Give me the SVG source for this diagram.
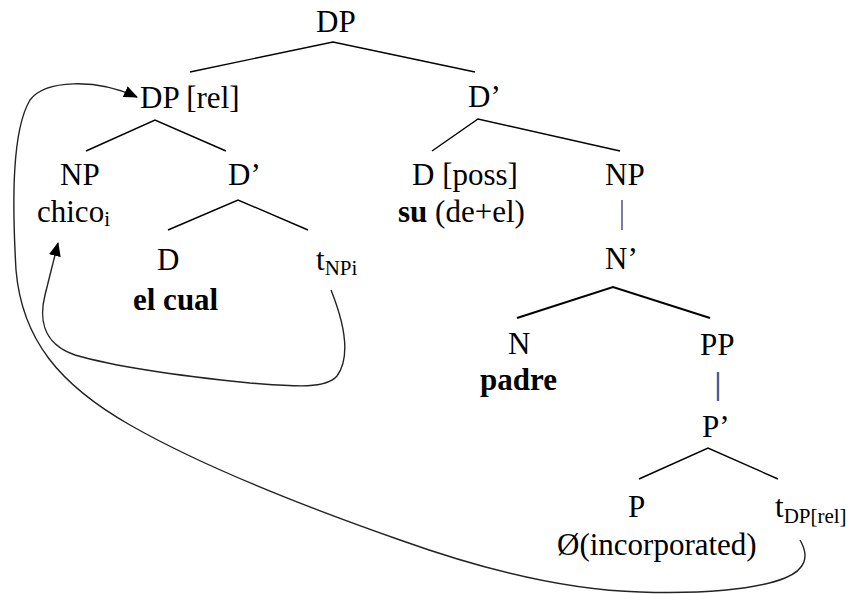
<svg xmlns="http://www.w3.org/2000/svg" width="855" height="594" viewBox="0 0 855 594">
<style>
.b{font-weight:bold}
.sub{font-size:21px}
.edge{stroke:#000;stroke-width:1.4;fill:none}
.thick{stroke:#000;stroke-width:2;fill:none}
.vbar{stroke:#5a5a8c;stroke-width:1.6;fill:none}
.vbar2{stroke:#5a5a8c;stroke-width:2.4;fill:none}
.move{stroke:#222;stroke-width:1.4;fill:none;marker-end:url(#ah)}
</style>
<defs>
<marker id="ah" viewBox="0 0 14 12" refX="13" refY="6" markerWidth="14" markerHeight="12" markerUnits="userSpaceOnUse" orient="auto">
<path d="M0,0 L14,6 L0,12 Z" fill="#000"/>
</marker>
</defs>
<rect width="855" height="594" fill="#fff"/>
<g id="connectors">
<path class="edge" d="M190,72 L333,42 L475,72"/>
<path class="edge" d="M86,151 L155,120 L226,151"/>
<path class="edge" d="M168,230 L238,200 L308,230"/>
<path class="edge" d="M432,151 L478,119 L620,151"/>
<path class="vbar" d="M622,200 L622,230"/>
<path class="thick" d="M517,318 L613,287 L710,318"/>
<path class="vbar2" d="M718,372 L718,401"/>
<path class="edge" d="M639,479 L708,448 L778,479"/>
<path class="move" d="M331,290 C343,320 352,355 337,376 C325,390 290,386 250,383 C200,378 120,368 75,355 C40,343 40,315 45,295 L58,243"/>
<path class="move" d="M800,540 C810,557 805,570 785,578 C755,590 700,594 640,592 C560,590 470,565 400,540 C300,505 200,465 130,425 C60,385 22,340 16,270 C12,200 12,130 30,100 C45,80 95,78 137,97"/>
</g>
<g id="nodes" font-family="Liberation Serif" font-size="31" fill="#000">
<g id="n-dp"><text x="316" y="32">DP</text></g>
<g id="n-dprel"><text x="140" y="108">DP [rel]</text></g>
<g id="n-dbar1"><text x="468" y="107">D’</text></g>
<g id="n-np1"><text x="60" y="185">NP</text><text x="37" y="222">chico<tspan class="sub" dy="4">i</tspan></text></g>
<g id="n-dbar2"><text x="228" y="185">D’</text></g>
<g id="n-dposs"><text x="412" y="185">D [poss]</text><text x="398" y="222"><tspan class="b">su</tspan> (de+el)</text></g>
<g id="n-np2"><text x="605" y="185">NP</text></g>
<g id="n-d"><text x="157" y="270">D</text><text class="b" x="133" y="310">el cual</text></g>
<g id="n-tnp"><text x="316" y="270">t<tspan class="sub" dy="5">NPi</tspan></text></g>
<g id="n-nbar"><text x="605" y="269">N’</text></g>
<g id="n-n"><text x="508" y="354">N</text><text class="b" x="480" y="390">padre</text></g>
<g id="n-pp"><text x="700" y="355">PP</text></g>
<g id="n-pbar"><text x="702" y="437">P’</text></g>
<g id="n-p"><text x="628" y="517">P</text><text x="557" y="555">Ø(incorporated)</text></g>
<g id="n-tdp"><text x="775" y="517">t<tspan class="sub" dy="6">DP[rel]</tspan></text></g>
</g>
</svg>
